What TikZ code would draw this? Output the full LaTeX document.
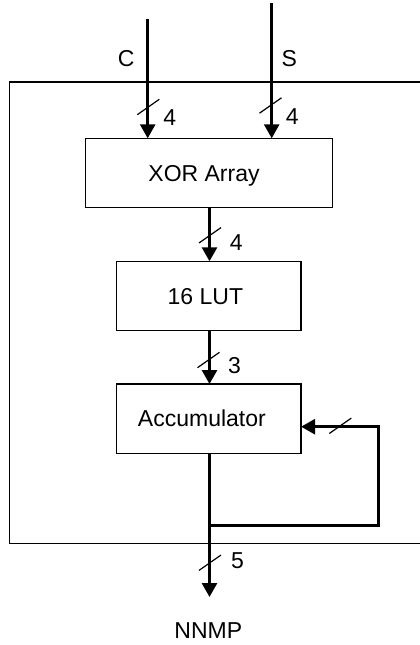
\documentclass[tikz,border=0pt]{standalone}
\usepackage{fontspec}
\setmainfont{Liberation Sans}
\usetikzlibrary{arrows.meta}

\tikzset{
  thinline/.style={line width=1.2pt},
  bus/.style={line width=2.7pt, -{Triangle[length=14pt,width=15pt]}},
  busline/.style={line width=2.7pt},
  block/.style={draw, thinline, rectangle, inner sep=0pt, outer sep=0pt,
    text height=16.5pt, text depth=0pt},
  lbl/.style={inner sep=0pt, anchor=base},
  busmark/.pic={\draw[thinline] (-11,7.7) -- (11,-7.7);}
}

\begin{document}
\begin{tikzpicture}[x=1pt, y=-1pt, font=\fontsize{23}{27}\selectfont]
  \useasboundingbox (0,0) rectangle (420,645);

  % enclosing unit (open on the right)
  \draw[thinline] (430,82) -- (9.5,82) -- (9.5,543.5) -- (430,543.5);

  % blocks
  \node[block, minimum width=246.6pt, minimum height=69pt] (xor) at (209,172.8) {XOR Array\hspace*{10pt}};
  \node[block, minimum width=184.3pt, minimum height=69.4pt] (lut) at (208.9,296) {16 LUT\hspace*{7pt}};
  \node[block, minimum width=184.3pt, minimum height=69.3pt] (acc) at (208.9,418.7) {Accumulator\hspace*{14pt}};

  % free ends of the connectors
  \coordinate (cin) at (147.7,19);
  \coordinate (sin) at (271.7,3);
  \coordinate (jn)  at (209.5,525.7);
  \coordinate (fb)  at (378.3,426.7);
  \coordinate (out) at (209.5,597);

  % inputs
  \draw[bus] (cin) -- (cin |- xor.north);
  \draw[bus] (sin) -- (sin |- xor.north);
  \node[lbl] (clbl) at (126.3,66.3) {C};
  \node[lbl] (slbl) at (289.2,66.3) {S};

  % datapath
  \draw[bus] (jn |- xor.south) -- (jn |- lut.north);
  \draw[bus] (jn |- lut.south) -- (jn |- acc.north);
  \draw[busline] (jn |- acc.south) -- (jn);
  \draw[bus] (jn) -- (out);
  \draw[bus] (jn) -| (fb) -- (fb -| acc.east);

  % bus-width marks
  \pic at (148.3,107) {busmark};
  \pic at (270.5,105.5) {busmark};
  \pic at (210,235.3) {busmark};
  \pic at (208.5,360) {busmark};
  \pic at (340.3,425.8) {busmark};
  \pic at (210,562.7) {busmark};

  \node[lbl] (w1) at (169.7,125) {4};
  \node[lbl] (w2) at (292.3,124.6) {4};
  \node[lbl] (w3) at (236.3,250.3) {4};
  \node[lbl] (w4) at (234.5,373) {3};
  \node[lbl] (w5) at (237.5,568.8) {5};

  % output
  \node[lbl] (nnmp) at (208.3,638.3) {NNMP};
\end{tikzpicture}
\end{document}
